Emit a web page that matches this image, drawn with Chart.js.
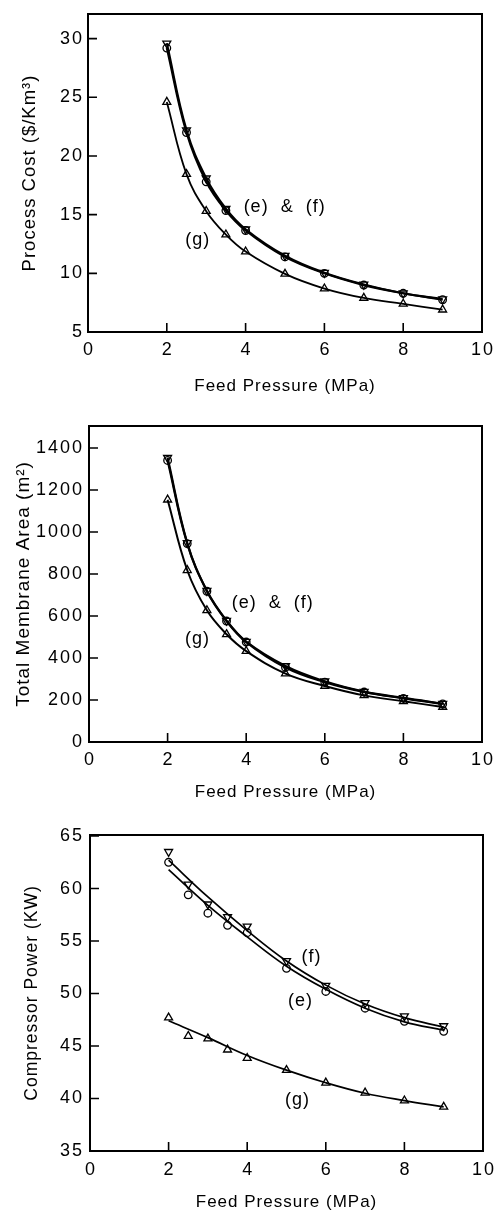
<!DOCTYPE html>
<html><head><meta charset="utf-8">
<script src="https://cdn.jsdelivr.net/npm/chart.js@4"></script>
<style>
html,body{margin:0;padding:0;background:#fff;width:497px;height:1212px;overflow:hidden;}
.wrap{position:absolute;left:0;width:497px;}
</style></head>
<body>
<div class="wrap" style="top:0;height:400px"><canvas id="c1"></canvas></div>
<div class="wrap" style="top:400px;height:410px"><canvas id="c2"></canvas></div>
<div class="wrap" style="top:810px;height:402px"><canvas id="c3"></canvas></div>
<script>
// ---- data ----
const pressure = [2, 2.5, 3, 3.5, 4, 5, 6, 7, 8, 9];
const xTicks = [0, 2, 4, 6, 8, 10];

const costE = [29.2, 22.0, 17.8, 15.35, 13.65, 11.4, 10.0, 9.0, 8.3, 7.75];
const costF = [29.6, 22.2, 18.1, 15.5, 13.75, 11.5, 10.05, 9.05, 8.3, 7.8];
const costG = [24.6, 18.45, 15.3, 13.3, 11.85, 9.95, 8.7, 7.9, 7.4, 6.9];
const costTicks = [5, 10, 15, 20, 25, 30];

const areaE = [1341, 945, 718, 576, 476, 355, 285, 238, 208, 181];
const areaF = [1354, 948, 720, 578, 478, 362, 289, 240, 210, 183];
const areaG = [1154, 818, 627, 513, 433, 326, 267, 222, 194, 167];
const areaTicks = [0, 200, 400, 600, 800, 1000, 1200, 1400];

const powerE = [62.5, 59.4, 57.65, 56.5, 55.8, 52.4, 50.2, 48.6, 47.35, 46.4];
const powerF = [63.5, 60.4, 58.5, 57.3, 56.4, 53.1, 50.75, 49.1, 47.85, 46.9];
const powerG = [47.7, 45.95, 45.7, 44.65, 43.85, 42.7, 41.5, 40.55, 39.8, 39.2];
const fitX = [2, 3, 4, 5, 6, 7, 8, 9];
const fitE = [61.8, 58.4, 55.4, 52.6, 50.4, 48.6, 47.3, 46.5];
const fitF = [62.7, 59.2, 56.0, 53.1, 50.8, 49.0, 47.7, 46.8];
const fitG = [47.4, 45.8, 44.1, 42.7, 41.5, 40.5, 39.8, 39.2];
const powerTicks = [35, 40, 45, 50, 55, 60, 65];

// ---- helpers ----
const FONT = "'Liberation Sans', Arial, Helvetica, sans-serif";
Chart.defaults.font.family = FONT;
Chart.defaults.color = '#000';

const pts = (xs, ys) => xs.map((x, i) => ({x: x, y: ys[i]}));

function markerSet(xs, ys, style, rot, line, lw) {
  return {
    data: pts(xs, ys),
    showLine: line,
    borderColor: '#000',
    borderWidth: lw || 2,
    tension: 0.4,
    pointStyle: style,
    pointRotation: rot,
    pointRadius: style === 'circle' ? 3.8 : 4.6,
    pointBorderWidth: 1.3,
    pointBorderColor: '#000',
    pointBackgroundColor: 'rgba(255,255,255,0)'
  };
}
function curveSet(xs, ys, lw) {
  return {
    data: pts(xs, ys),
    showLine: true,
    borderColor: '#000',
    borderWidth: lw,
    tension: 0.4,
    pointRadius: 0
  };
}

const framePlugin = {
  id: 'frame',
  afterDraw(chart, args, o) {
    const ctx = chart.ctx, a = chart.chartArea, x = chart.scales.x, y = chart.scales.y;
    ctx.save();
    ctx.strokeStyle = '#000';
    ctx.lineWidth = 2;
    ctx.strokeRect(a.left, a.top, a.right - a.left, a.bottom - a.top);
    ctx.lineWidth = 1.6;
    ctx.beginPath();
    x.ticks.forEach(t => {
      if (t.value <= x.min || t.value >= x.max) return;
      const p = x.getPixelForValue(t.value);
      ctx.moveTo(p, a.bottom); ctx.lineTo(p, a.bottom - 9);
    });
    y.ticks.forEach(t => {
      if (t.value <= y.min || t.value >= y.max) return;
      const p = y.getPixelForValue(t.value);
      ctx.moveTo(a.left, p); ctx.lineTo(a.left + 9, p);
    });
    ctx.stroke();
    // tick labels
    ctx.fillStyle = '#000';
    ctx.letterSpacing = '2px';
    ctx.font = '18px ' + FONT;
    ctx.textBaseline = 'middle';
    ctx.textAlign = 'center';
    x.ticks.forEach(t => ctx.fillText(String(t.value), x.getPixelForValue(t.value) + 1, a.bottom + o.xLab));
    ctx.textAlign = 'right';
    y.ticks.forEach(t => ctx.fillText(String(t.value), 84, y.getPixelForValue(t.value)));
    // annotations
    ctx.letterSpacing = '1px';
    ctx.textAlign = 'left';
    ctx.font = '18px ' + FONT;
    o.notes.forEach(n => ctx.fillText(n.text, x.getPixelForValue(n.x), y.getPixelForValue(n.y)));
    ctx.restore();
  }
};

function makeChart(id, s) {
  const c = document.getElementById(id);
  c.getContext('2d').letterSpacing = '1px';
  return new Chart(c, {
    type: 'scatter',
    data: {datasets: s.datasets},
    plugins: [framePlugin, {
      id: 'spacing',
      beforeLayout(ch) { ch.ctx.letterSpacing = '1px'; },
      beforeDraw(ch) { ch.ctx.letterSpacing = '1px'; }
    }],
    options: {
      responsive: true, maintainAspectRatio: false, animation: false,
      layout: {padding: {top: s.top, right: s.right, left: 0, bottom: 0}},
      plugins: {legend: {display: false}, tooltip: {enabled: false}, frame: {xLab: s.xLab, notes: s.notes}},
      scales: {
        x: {
          type: 'linear', min: 0, max: 10,
          afterBuildTicks: sc => { sc.ticks = xTicks.map(v => ({value: v})); },
          afterFit: sc => { sc.height = s.xH; },
          grid: {display: false, drawTicks: false}, border: {display: false},
          ticks: {display: false},
          title: {display: true, text: 'Feed Pressure (MPa)', color: '#000',
                  font: {size: 17, lineHeight: 1}, padding: {top: 0, bottom: s.xTitlePad}}
        },
        y: {
          type: 'linear', min: s.yMin, max: s.yMax,
          afterBuildTicks: sc => { sc.ticks = s.yTicks.map(v => ({value: v})); },
          afterFit: sc => { sc.width = s.yW; },
          grid: {display: false, drawTicks: false}, border: {display: false},
          ticks: {display: false},
          title: {display: true, text: s.yTitle, color: '#000',
                  font: {size: s.yTitleSize, lineHeight: 1}, padding: {top: s.yTitlePad, bottom: 0}}
        }
      }
    }
  });
}

makeChart('c1', {
  top: 14, right: 15, xH: 68, yW: 88, xLab: 18, xTitlePad: 5,
  yMin: 5, yMax: 32.1, yTicks: costTicks,
  yTitle: 'Process Cost ($/Km\u00B3)', yTitleSize: 18.5, yTitlePad: 20.5,
  datasets: [
    markerSet(pressure, costG, 'triangle', 0, true, 1.8),
    markerSet(pressure, costE, 'circle', 0, true, 2.2),
    markerSet(pressure, costF, 'triangle', 180, true, 2.2)
  ],
  notes: [
    {text: '(e)  &  (f)', x: 3.95, y: 15.67},
    {text: '(g)', x: 2.47, y: 12.85}
  ]
});

makeChart('c2', {
  top: 26, right: 15, xH: 68, yW: 89, xLab: 18.3, xTitlePad: 9.5,
  yMin: 0, yMax: 1505, yTicks: areaTicks,
  yTitle: 'Total Membrane Area (m\u00B2)', yTitleSize: 19, yTitlePad: 14,
  datasets: [
    markerSet(pressure, areaG, 'triangle', 0, true, 2),
    markerSet(pressure, areaE, 'circle', 0, true, 2.2),
    markerSet(pressure, areaF, 'triangle', 180, true, 2.2)
  ],
  notes: [
    {text: '(e)  &  (f)', x: 3.63, y: 662},
    {text: '(g)', x: 2.44, y: 492}
  ]
});

makeChart('c3', {
  top: 25, right: 14, xH: 61, yW: 90, xLab: 19, xTitlePad: 1.2,
  yMin: 35, yMax: 65.1, yTicks: powerTicks,
  yTitle: 'Compressor Power (KW)', yTitleSize: 17.5, yTitlePad: 23.5,
  datasets: [
    curveSet(fitX, fitG, 1.7),
    curveSet(fitX, fitE, 1.7),
    curveSet(fitX, fitF, 1.7),
    markerSet(pressure, powerG, 'triangle', 0, false),
    markerSet(pressure, powerE, 'circle', 0, false),
    markerSet(pressure, powerF, 'triangle', 180, false)
  ],
  notes: [
    {text: '(f)', x: 5.38, y: 53.45},
    {text: '(e)', x: 5.04, y: 49.24},
    {text: '(g)', x: 4.96, y: 39.83}
  ]
});
</script>
</body></html>
